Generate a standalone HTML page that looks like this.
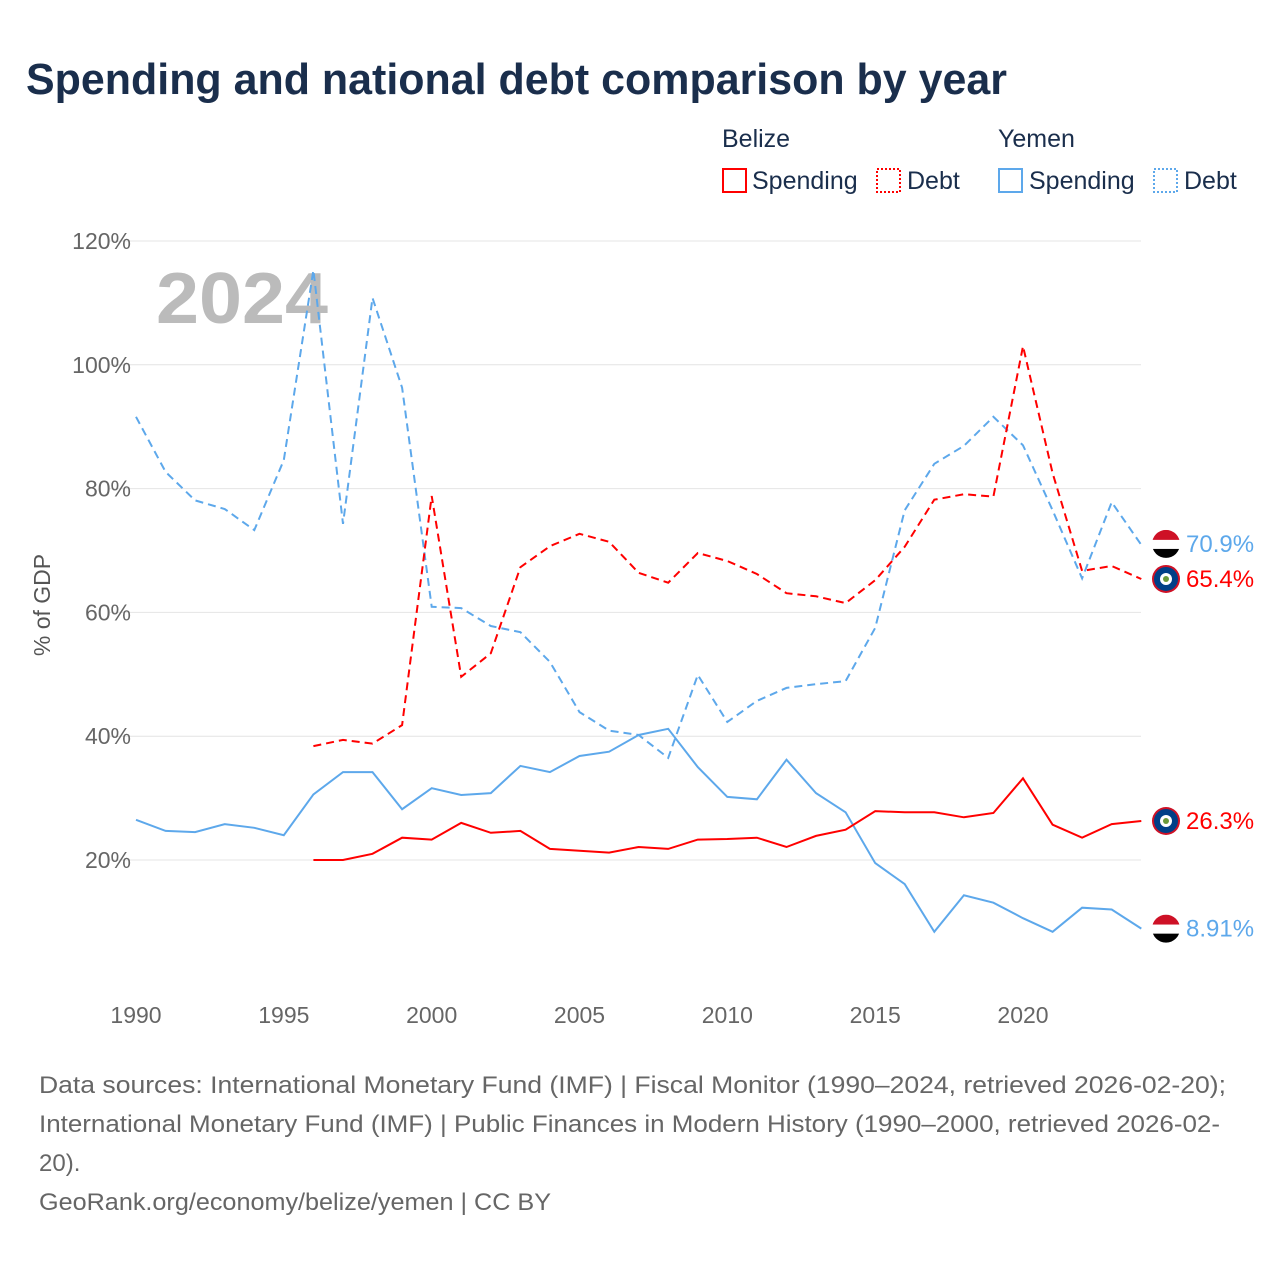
<!DOCTYPE html>
<html><head><meta charset="utf-8"><style>
body{margin:0;background:#fff;font-family:"Liberation Sans",sans-serif;}
svg text{font-family:"Liberation Sans",sans-serif;}
</style></head><body>
<svg id="chart" width="1280" height="1280" xmlns="http://www.w3.org/2000/svg">
<rect width="1280" height="1280" fill="#fff"/>
<text x="26" y="94" font-size="44" font-weight="bold" fill="#1a2e4c" textLength="981" lengthAdjust="spacingAndGlyphs">Spending and national debt comparison by year</text>
<g font-size="25" fill="#1a2e4c">
<text x="722" y="147" fill="#1a2e4c">Belize</text>
<text x="998" y="147" fill="#1a2e4c">Yemen</text>
<g><rect x="723" y="169" width="23" height="23" fill="none" stroke="#f00" stroke-width="2"/><text x="752" y="189" fill="#1a2e4c">Spending</text></g>
<g><rect x="877" y="169" width="23" height="23" fill="none" stroke="#f00" stroke-width="2" stroke-dasharray="2,2"/><text x="907" y="189" fill="#1a2e4c">Debt</text></g>
<g><rect x="999" y="169" width="23" height="23" fill="none" stroke="#5da8eb" stroke-width="2"/><text x="1029" y="189" fill="#1a2e4c">Spending</text></g>
<g><rect x="1154" y="169" width="23" height="23" fill="none" stroke="#5da8eb" stroke-width="2" stroke-dasharray="2,2"/><text x="1184" y="189" fill="#1a2e4c">Debt</text></g>
</g>
<g id="grid"></g>
<text x="156" y="323" font-size="72" font-weight="bold" fill="#bbb" textLength="172" lengthAdjust="spacingAndGlyphs">2024</text>
<text transform="translate(50,605) rotate(-90)" text-anchor="middle" font-size="23" fill="#555">% of GDP</text>
<g id="series"></g>
<g id="ends"></g>
<g font-size="24" fill="#666">
<text x="39" y="1093" textLength="1187" lengthAdjust="spacingAndGlyphs">Data sources: International Monetary Fund (IMF) | Fiscal Monitor (1990–2024, retrieved 2026-02-20);</text>
<text x="39" y="1132" textLength="1181" lengthAdjust="spacingAndGlyphs">International Monetary Fund (IMF) | Public Finances in Modern History (1990–2000, retrieved 2026-02-</text>
<text x="39" y="1171">20).</text>
<text x="39" y="1210" textLength="512" lengthAdjust="spacingAndGlyphs">GeoRank.org/economy/belize/yemen | CC BY</text>
</g>
</svg>
<script>
const yTicks=[20,40,60,80,100,120];
const xTicks=[1990,1995,2000,2005,2010,2015,2020];
const yemenYears=[1990,1991,1992,1993,1994,1995,1996,1997,1998,1999,2000,2001,2002,2003,2004,2005,2006,2007,2008,2009,2010,2011,2012,2013,2014,2015,2016,2017,2018,2019,2020,2021,2022,2023,2024];
const yemenDebt=[91.6,82.7,78.1,76.7,73.3,84.6,115.3,74.3,110.8,96.3,60.9,60.7,57.8,56.8,52.0,43.9,40.9,40.2,36.5,49.9,42.3,45.7,47.8,48.4,48.9,57.5,76.5,84.0,86.9,91.6,87.0,76.5,65.5,77.8,70.9];
const yemenSpending=[26.5,24.7,24.5,25.8,25.2,24.0,30.6,34.2,34.2,28.2,31.6,30.5,30.8,35.2,34.2,36.8,37.5,40.2,41.2,35.0,30.2,29.8,36.2,30.8,27.7,19.5,16.1,8.4,14.3,13.1,10.6,8.4,12.3,12.0,8.91];
const belizeYears=[1996,1997,1998,1999,2000,2001,2002,2003,2004,2005,2006,2007,2008,2009,2010,2011,2012,2013,2014,2015,2016,2017,2018,2019,2020,2021,2022,2023,2024];
const belizeDebt=[38.4,39.4,38.8,41.8,78.8,49.6,53.4,67.3,70.7,72.7,71.4,66.4,64.8,69.6,68.3,66.2,63.1,62.6,61.5,65.2,70.6,78.2,79.1,78.7,103.0,82.5,66.7,67.5,65.4];
const belizeSpending=[20.0,20.0,21.0,23.6,23.3,26.0,24.4,24.7,21.8,21.5,21.2,22.1,21.8,23.3,23.4,23.6,22.1,23.9,24.9,27.9,27.7,27.7,26.9,27.6,33.2,25.7,23.6,25.8,26.3];
const endLabels=["70.9%","65.4%","26.3%","8.91%"];

const NS="http://www.w3.org/2000/svg";
const x=v=>136+(v-1990)*(1023-136)/30;
const y=v=>860-(v-20)*(860-241)/100;
function mk(t,a,p){const e=document.createElementNS(NS,t);for(const k in a)e.setAttribute(k,a[k]);p.appendChild(e);return e;}
const grid=document.getElementById('grid');
yTicks.forEach(t=>{
 const l=mk('line',{x1:110,x2:1141,y1:y(t),y2:y(t),stroke:'#e4e4e4','stroke-width':1},grid);
 
 
 const tx=mk('text',{x:131,y:y(t)+8,'text-anchor':'end','font-size':23,fill:'#666'},grid);
 tx.textContent=t+'%';
 
 
});
xTicks.forEach(t=>{
 const tx=mk('text',{x:x(t),y:1023,'text-anchor':'middle','font-size':23,fill:'#666'},grid);
 tx.textContent=t;
 
 
});
const ser=document.getElementById('series');
function line(xs,vs,col,dash,name){
 const d=xs.map((yr,i)=>(i?'L':'M')+x(yr).toFixed(1)+','+y(vs[i]).toFixed(1)).join('');
 const p=mk('path',{d:d,fill:'none',stroke:col,'stroke-width':2,'stroke-dasharray':dash},ser);
 
 
}
line(yemenYears,yemenDebt,'#5da8eb','8,5','yemen-debt-line');
line(yemenYears,yemenSpending,'#5da8eb','none','yemen-spending-line');
line(belizeYears,belizeDebt,'#f00','8,5','belize-debt-line');
line(belizeYears,belizeSpending,'#f00','none','belize-spending-line');
const ends=document.getElementById('ends');
function flag(cx,cy,c,name){
 const g=mk('g',{},ends);
 
 
 if(c==='yemen'){
  mk('clipPath',{id:'cp'+Math.round(cy)},g);
  const cp=g.lastChild;mk('circle',{cx:cx,cy:cy,r:14},cp);
  const gg=mk('g',{'clip-path':'url(#cp'+Math.round(cy)+')'},g);
  mk('rect',{x:cx-14,y:cy-14,width:28,height:10,fill:'#ce1126'},gg);
  mk('rect',{x:cx-14,y:cy-4,width:28,height:9,fill:'#fff'},gg);
  mk('rect',{x:cx-14,y:cy+5,width:28,height:10,fill:'#000'},gg);
 }else{
  mk('circle',{cx:cx,cy:cy,r:14,fill:'#ce1126'},g);
  mk('circle',{cx:cx,cy:cy,r:12,fill:'#003f87'},g);
  mk('circle',{cx:cx,cy:cy,r:6,fill:'#fff'},g);
  mk('circle',{cx:cx,cy:cy,r:3,fill:'#6a9a3a'},g);
 }
}
const lastVals=[yemenDebt[yemenDebt.length-1],belizeDebt[belizeDebt.length-1],belizeSpending[belizeSpending.length-1],yemenSpending[yemenSpending.length-1]];
const cols=['#5da8eb','#f00','#f00','#5da8eb'];
const kinds=['yemen','belize','belize','yemen'];
const names=['yemen-debt','belize-debt','belize-spending','yemen-spending'];
lastVals.forEach((v,i)=>{
 let cy=y(v);
 if(i===0)cy-=1;
 flag(1166,cy,kinds[i],names[i]+'-flag');
 const t=mk('text',{x:1186,y:cy+8,'font-size':24,fill:cols[i]},ends);
 t.textContent=endLabels[i];
 
 
});
</script>
</body></html>
